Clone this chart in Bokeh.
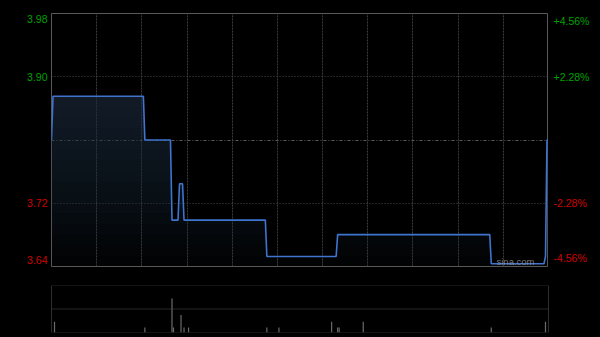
from bokeh.plotting import figure
from bokeh.layouts import column, row
from bokeh.models import Range1d, Grid, FixedTicker, Span, Label
from bokeh.core.properties import value
from bokeh.embed import file_html
from bokeh.resources import INLINE
import numpy as np

# ---- data ----
prev_close = 3.81
pct_levels = [4.56, 2.28, -2.28, -4.56]          # right-hand labels (%)
minute_ticks = [30, 60, 90, 120, 150, 180, 210, 240, 270, 300]  # 30-min grid
session_minutes = 330

# price breakpoints (minute index, price)
times = [0, 1, 61, 62, 79, 80, 84, 85, 87, 88, 142, 143, 189, 190, 291, 292, 327, 328, 329, 330]
prices = [3.81, 3.87, 3.87, 3.81, 3.81, 3.70, 3.70, 3.75, 3.75, 3.70, 3.70, 3.65,
          3.65, 3.68, 3.68, 3.64, 3.64, 3.65, 3.81, 3.81]

# volume bars (minute index, shares)
vol_times = [2, 62, 80, 81, 86, 88, 91, 143, 151, 186, 190, 191, 207, 292, 328]
vol_values = [32000, 15000, 101000, 15000, 52000, 15000, 15000, 15000, 15000,
              32000, 15000, 15000, 32000, 15000, 32000]
vol_max = 140000

# ---- styling ----
BG = "#000000"
FRAME = "#5a5a5a"
GRID = "#3c3c3c"
GREEN = "#00a000"
RED = "#d00000"
LINE = "#3f74cf"
FONT = "Liberation Sans"

y_lo = prev_close * (1 - pct_levels[0] / 100)
y_hi = prev_close * (1 + pct_levels[0] / 100)
yr = Range1d(y_lo, y_hi)

common = dict(output_backend="svg", toolbar_location=None,
              x_axis_location=None, y_axis_location=None,
              background_fill_color=BG, border_fill_color=BG)

p = figure(width=497, height=275, x_range=Range1d(0, session_minutes), y_range=yr,
           min_border_left=0, min_border_right=0, min_border_top=13, min_border_bottom=9,
           outline_line_color=FRAME, outline_line_width=1, **common)
p.grid.visible = False

# gradient-like area fill under the price line
pr = np.array(prices)
n_bands = 16
levels = np.linspace(y_lo, max(prices), n_bands + 1)[:-1]
for lv in levels:
    p.varea(x=times, y1=[lv] * len(times), y2=list(np.maximum(pr, lv)),
            fill_color="#1c2c4a", fill_alpha=0.06)

# grid lines
p.add_layout(Grid(dimension=0, ticker=FixedTicker(ticks=minute_ticks),
                  grid_line_color=GRID, grid_line_dash="2 1", grid_line_width=1))
hticks = [prev_close * (1 + v / 100) for v in pct_levels[1:3]]
p.add_layout(Grid(dimension=1, ticker=FixedTicker(ticks=hticks),
                  grid_line_color="#4a4a4a", grid_line_dash="1 2", grid_line_width=1))
p.add_layout(Grid(dimension=1, ticker=FixedTicker(ticks=[prev_close]),
                  grid_line_color="#5a5a5a", grid_line_dash="3 2 1 2", grid_line_width=1))

# price line
p.line(times, prices, line_color=LINE, line_width=1.6)

p.add_layout(Label(x=session_minutes, y=y_lo, x_offset=-14, y_offset=0, text="sina.com",
                   text_align="right", text_baseline="bottom", text_color="#9a9a9a",
                   text_alpha=0.8, text_font=FONT, text_font_size="9.5px"))

# label columns (share the price range)
left = figure(width=51, height=275, x_range=Range1d(0, 1), y_range=yr,
              min_border_left=0, min_border_right=0, min_border_top=13, min_border_bottom=9,
              outline_line_color=None, **common)
right = figure(width=52, height=275, x_range=Range1d(0, 1), y_range=yr,
               min_border_left=0, min_border_right=0, min_border_top=13, min_border_bottom=9,
               outline_line_color=None, **common)
for fig in (left, right):
    fig.grid.visible = False

baselines = ["top", "middle", "middle", "bottom"]
yoffs = [1, 0, 0, -3]
for pct, bl, yo in zip(pct_levels, baselines, yoffs):
    val = prev_close * (1 + pct / 100)
    col = GREEN if pct > 0 else RED
    left.text(x=[1], y=[val], text=[f"{val:.2f}"], x_offset=-4, y_offset=yo,
              text_align="right", text_baseline=bl, text_color=col,
              text_font=value(FONT), text_font_size="10.5px")
    sign = "+" if pct > 0 else ""
    right.text(x=[0], y=[val], text=[f"{sign}{pct:.2f}%"], x_offset=5, y_offset=yo,
               text_align="left", text_baseline=bl, text_color=col,
               text_font=value(FONT), text_font_size="10.5px")

top_row = row(left, p, right, spacing=0, background=BG)

# ---- volume panel ----
v = figure(width=600, height=62, x_range=Range1d(0, session_minutes), y_range=Range1d(0, vol_max),
           min_border_left=51, min_border_right=52, min_border_top=10, min_border_bottom=5,
           outline_line_color=None, **common)
v.grid.visible = False
for yv in [0, vol_max / 2, vol_max]:
    v.add_layout(Span(location=yv, dimension="width", line_color="#4e4e4e",
                      line_dash="1 1", line_width=1))
for xv in [0, session_minutes]:
    v.add_layout(Span(location=xv, dimension="height", line_color=FRAME, line_width=1))
v.vbar(x=vol_times, top=vol_values, width=0.8, fill_color="#6a6a6a", line_color=None)

layout = column(top_row, v, spacing=0, background=BG)
open("out.html", "w").write(file_html(layout, INLINE))
